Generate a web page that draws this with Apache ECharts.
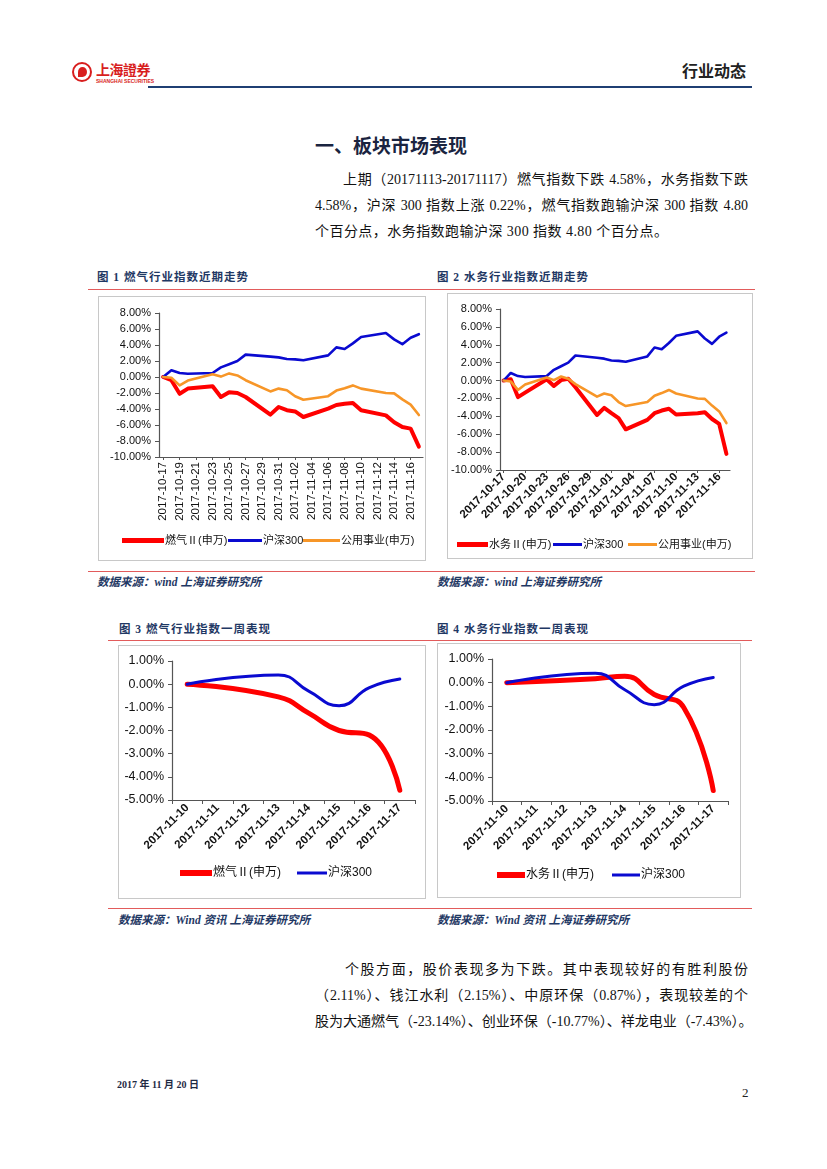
<!DOCTYPE html>
<html><head><meta charset="utf-8">
<script src="https://cdn.jsdelivr.net/npm/echarts@6/dist/echarts.min.js"></script>
<style>
html,body{margin:0;padding:0;background:#fff;}
body{width:827px;height:1169px;position:relative;overflow:hidden;font-family:"Liberation Serif","Noto Sans CJK SC",serif;color:#000;}
.a{position:absolute;white-space:nowrap;}
.rule{position:absolute;height:0;border-top:1.5px solid #E25B5B;}
.ftitle{position:absolute;white-space:nowrap;font-size:11.5px;font-weight:bold;color:#1F3864;letter-spacing:1px;line-height:14px;}
.src{position:absolute;white-space:nowrap;font-size:11.5px;font-weight:bold;font-style:italic;color:#1F3864;line-height:14px;}
.box{position:absolute;border:1px solid #C8C8C8;box-sizing:border-box;background:#fff;}
.p{position:absolute;white-space:nowrap;font-size:14px;line-height:18px;color:#111;}
.j{text-align:justify;text-align-last:justify;}
</style></head><body>

<!-- header -->
<div class="a" style="left:72px;top:62px;width:20px;height:20px;border-radius:50%;border:2.5px solid #D81E1E;box-sizing:border-box;"></div>
<div class="a" style="left:78px;top:67px;width:9px;height:10px;border-radius:50% 50% 50% 0;background:#D81E1E;"></div>
<div class="a" style="left:96px;top:60px;font-size:14px;font-weight:bold;color:#D81E1E;font-family:'Noto Sans CJK TC','Noto Sans CJK SC';line-height:18px;letter-spacing:-0.5px;">上海證券</div>
<div class="a" style="left:96px;top:78px;font-size:5px;font-weight:bold;color:#D81E1E;font-family:'Liberation Sans';line-height:6px;">SHANGHAI SECURITIES</div>
<div class="a" style="left:682px;top:60px;font-size:16px;font-weight:bold;color:#222;font-family:'Noto Sans CJK SC';line-height:20px;">行业动态</div>
<div class="a" style="left:148px;top:86px;width:604px;height:2px;background:#1F3F73;"></div>

<!-- section title -->
<div class="a" style="left:315px;top:133px;font-size:19px;font-weight:bold;color:#1A2440;font-family:'Noto Sans CJK SC';line-height:24px;">一、板块市场表现</div>

<div class="p j" style="left:343px;top:171px;width:405px;">上期（20171113-20171117）燃气指数下跌 4.58%，水务指数下跌</div>
<div class="p j" style="left:315px;top:197px;width:433px;">4.58%，沪深 300 指数上涨 0.22%，燃气指数跑输沪深 300 指数 4.80</div>
<div class="p" style="left:315px;top:223px;letter-spacing:0.45px;">个百分点，水务指数跑输沪深 300 指数 4.80 个百分点。</div>

<!-- figure 1/2 titles -->
<div class="ftitle" style="left:97px;top:270px;">图 1 燃气行业指数近期走势</div>
<div class="ftitle" style="left:437px;top:270px;">图 2 水务行业指数近期走势</div>
<div class="rule" style="left:88px;top:289px;width:667px;"></div>

<div class="box" style="left:98px;top:296px;width:328px;height:265px;"></div>
<div class="box" style="left:447px;top:293px;width:306px;height:266px;"></div>
<div id="c1" class="a" style="left:99px;top:297px;width:326px;height:263px;"></div>
<div id="c2" class="a" style="left:448px;top:294px;width:304px;height:264px;"></div>

<div class="rule" style="left:88px;top:571px;width:667px;"></div>
<div class="src" style="left:97px;top:575px;">数据来源：wind 上海证券研究所</div>
<div class="src" style="left:437px;top:575px;">数据来源：wind 上海证券研究所</div>

<!-- figure 3/4 titles -->
<div class="ftitle" style="left:119px;top:622px;">图 3 燃气行业指数一周表现</div>
<div class="ftitle" style="left:437px;top:622px;">图 4 水务行业指数一周表现</div>
<div class="rule" style="left:108px;top:640px;width:644px;"></div>

<div class="box" style="left:118px;top:645px;width:308px;height:254px;"></div>
<div class="box" style="left:437px;top:643px;width:304px;height:255px;"></div>
<div id="c3" class="a" style="left:119px;top:646px;width:306px;height:252px;"></div>
<div id="c4" class="a" style="left:438px;top:644px;width:302px;height:253px;"></div>

<div class="rule" style="left:108px;top:908px;width:644px;"></div>
<div class="src" style="left:118px;top:913px;">数据来源：Wind 资讯 上海证券研究所</div>
<div class="src" style="left:437px;top:913px;">数据来源：Wind 资讯 上海证券研究所</div>

<div class="p j" style="left:345px;top:961px;width:403px;">个股方面，股价表现多为下跌。其中表现较好的有胜利股份</div>
<div class="p j" style="left:315px;top:987px;width:433px;">（2.11%）、钱江水利（2.15%）、中原环保（0.87%），表现较差的个</div>
<div class="p j" style="left:315px;top:1013px;width:433px;">股为大通燃气（-23.14%）、创业环保（-10.77%）、祥龙电业（-7.43%）。</div>

<div class="a" style="left:117px;top:1079px;font-size:10px;font-weight:bold;color:#1F2A44;line-height:12px;">2017 年 11 月 20 日</div>
<div class="a" style="left:742px;top:1085px;font-size:13px;color:#222;line-height:16px;">2</div>

<script>
// ---- data ----
const dates = ['2017-10-17','2017-10-18','2017-10-19','2017-10-20','2017-10-21','2017-10-22','2017-10-23','2017-10-24','2017-10-25','2017-10-26','2017-10-27','2017-10-28','2017-10-29','2017-10-30','2017-10-31','2017-11-01','2017-11-02','2017-11-03','2017-11-04','2017-11-05','2017-11-06','2017-11-07','2017-11-08','2017-11-09','2017-11-10','2017-11-11','2017-11-12','2017-11-13','2017-11-14','2017-11-15','2017-11-16','2017-11-17'];
const gas = [0,-0.4,-2.1,-1.45,null,null,-1.15,-2.5,-1.9,-2.0,-2.5,null,null,-4.7,-3.75,-4.15,-4.3,-5.0,null,null,-3.95,-3.5,-3.35,-3.25,-4.15,null,null,-4.8,-5.65,-6.25,-6.45,-8.7];
const water = [0,0.15,-1.85,-1.35,null,null,0.15,-0.6,0.05,0.2,-0.75,null,null,-3.85,-3.05,-3.65,-4.2,-5.45,null,null,-4.4,-3.65,-3.35,-3.15,-3.8,null,null,-3.65,-3.55,-4.3,-4.85,-8.2];
const hs300 = [0,0.85,0.5,0.4,null,null,0.5,1.2,1.6,2.0,2.8,null,null,2.55,2.45,2.25,2.2,2.1,null,null,2.7,3.7,3.5,4.2,5.0,null,null,5.5,4.7,4.1,4.9,5.35];
const utility = [0,-0.1,-1.05,-0.45,null,null,0.35,0.05,0.45,0.2,-0.4,null,null,-1.8,-1.45,-1.65,-2.4,-2.85,null,null,-2.4,-1.7,-1.4,-1.05,-1.45,null,null,-2.0,-2.05,-2.8,-3.45,-4.75];

const weekDates = ['2017-11-10','2017-11-11','2017-11-12','2017-11-13','2017-11-14','2017-11-15','2017-11-16','2017-11-17'];
const gasWeek = [0,null,null,-0.55,-1.25,-2.0,-2.2,-4.58];
const waterWeek = [0,null,null,0.17,0.27,-0.5,-1.05,-4.56];
const hsWeek = [0,null,null,0.4,-0.3,-0.93,-0.15,0.22];

const nameGas = '燃气Ⅱ(申万)';
const nameWater = '水务Ⅱ(申万)';
const nameHs = '沪深300';
const nameUtil = '公用事业(申万)';

// ---- styling ----
const RED = '#FF0000', BLUE = '#0A0AD0', ORANGE = '#F79628';
const FONT = '"Liberation Sans","Noto Sans CJK SC",sans-serif';
const pct = v => v.toFixed(2) + '%';

function line(name, data, color, width, smooth) {
  return {
    name, type: 'line', data, symbol: 'none', connectNulls: true, smooth: smooth || false,
    lineStyle: { color, width, cap: 'round', join: 'round' },
    itemStyle: { color }
  };
}

// one legend component per item so that each line icon has its own thickness
function legendItem(name, left, top, w, h, fontSize) {
  return {
    data: [name], left, top, itemWidth: w, itemHeight: h, icon: 'rect', padding: 0,
    itemStyle: { borderWidth: 0 },
    textStyle: { fontFamily: FONT, fontSize, color: '#111', padding: [0, 0, 0, -4] },
    selectedMode: false
  };
}

function makeOption(cfg) {
  return {
    animation: false,
    grid: cfg.grid,
    legend: cfg.legends,
    xAxis: {
      type: 'category', data: cfg.cats, boundaryGap: true,
      axisLine: { onZero: false, lineStyle: { color: '#555', width: 1.2 } },
      axisTick: cfg.xTick,
      axisLabel: Object.assign({ fontFamily: FONT, color: '#111' }, cfg.xLabel),
      splitLine: { show: false }
    },
    yAxis: {
      type: 'value', min: cfg.min, max: cfg.max, interval: cfg.interval,
      axisLine: { show: true, lineStyle: { color: '#555', width: 1.2 } },
      axisTick: { show: true, length: 4, lineStyle: { color: '#555' } },
      axisLabel: { formatter: pct, fontFamily: FONT, fontSize: cfg.yFont, color: '#111', margin: 8 },
      splitLine: { show: false }
    },
    series: cfg.series
  };
}

const c1 = echarts.init(document.getElementById('c1'));
c1.setOption(makeOption({
  grid: { left: 60, top: 16, right: 2, height: 144 },
  cats: dates, min: -10, max: 8, interval: 2, yFont: 11,
  xTick: { show: true, interval: 1, alignWithLabel: true, length: 3, lineStyle: { color: '#555' } },
  xLabel: { interval: 1, rotate: 90, fontSize: 11.5, margin: 5 },
  legends: [
    legendItem(nameGas, 23, 238, 42, 5, 11),
    legendItem(nameHs, 129, 238, 34, 3, 11),
    legendItem(nameUtil, 204, 238, 37, 3, 11)
  ],
  series: [line(nameGas, gas, RED, 4), line(nameHs, hs300, BLUE, 2.6), line(nameUtil, utility, ORANGE, 2.6)]
}));

const c2 = echarts.init(document.getElementById('c2'));
c2.setOption(makeOption({
  grid: { left: 49, top: 15, right: 22, height: 161 },
  cats: dates, min: -10, max: 8, interval: 2, yFont: 11,
  xTick: { show: true, interval: 2, alignWithLabel: true, length: 3, lineStyle: { color: '#555' } },
  xLabel: { interval: 2, rotate: 45, fontSize: 11.5, fontWeight: 'bold', margin: 5 },
  legends: [
    legendItem(nameWater, 9, 245, 31, 5, 11),
    legendItem(nameHs, 105, 245, 29, 3, 11),
    legendItem(nameUtil, 180, 245, 29, 3, 11)
  ],
  series: [line(nameWater, water, RED, 4), line(nameHs, hs300, BLUE, 2.6), line(nameUtil, utility, ORANGE, 2.6)]
}));

const c3 = echarts.init(document.getElementById('c3'));
c3.setOption(makeOption({
  grid: { left: 53, top: 15, right: 10, height: 139 },
  cats: weekDates, min: -5, max: 1, interval: 1, yFont: 12.5,
  xTick: { show: true, interval: 0, alignWithLabel: false, length: 4, lineStyle: { color: '#555' } },
  xLabel: { interval: 0, rotate: 45, fontSize: 11.5, fontWeight: 'bold', margin: 6 },
  legends: [
    legendItem(nameGas, 61, 221, 32, 6, 12),
    legendItem(nameHs, 178, 221, 30, 3, 12)
  ],
  series: [line(nameGas, gasWeek, RED, 5, 0.5), line(nameHs, hsWeek, BLUE, 3, 0.5)]
}));

const c4 = echarts.init(document.getElementById('c4'));
c4.setOption(makeOption({
  grid: { left: 54, top: 15, right: 12, height: 142 },
  cats: weekDates, min: -5, max: 1, interval: 1, yFont: 12.5,
  xTick: { show: true, interval: 0, alignWithLabel: false, length: 4, lineStyle: { color: '#555' } },
  xLabel: { interval: 0, rotate: 45, fontSize: 11.5, fontWeight: 'bold', margin: 6 },
  legends: [
    legendItem(nameWater, 59, 225, 28, 6, 12),
    legendItem(nameHs, 174, 225, 28, 3, 12)
  ],
  series: [line(nameWater, waterWeek, RED, 5, 0.5), line(nameHs, hsWeek, BLUE, 3, 0.5)]
}));
</script>
</body></html>
